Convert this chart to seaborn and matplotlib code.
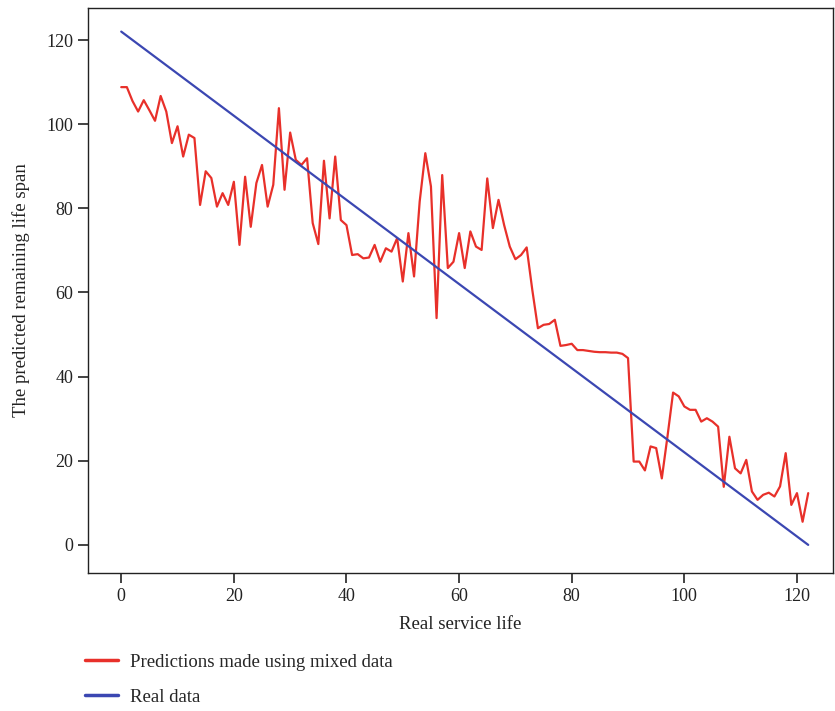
import numpy as np
import pandas as pd
import matplotlib
matplotlib.use("Agg")
import matplotlib.pyplot as plt
import seaborn as sns

service_life = list(range(0, 123))
real_data = [122 - v for v in service_life]
predicted = [
    108.8, 108.8, 105.5, 103.0, 105.7, 103.3, 100.8, 106.7, 103.0, 95.5,
    99.5, 92.3, 97.5, 96.7, 80.8, 88.8, 87.2, 80.4, 83.6, 80.8,
    86.3, 71.3, 87.5, 75.6, 86.0, 90.3, 80.4, 85.6, 103.8, 84.4,
    98.0, 91.5, 90.3, 91.9, 76.5, 71.5, 91.3, 77.6, 92.3, 77.2,
    76.0, 68.9, 69.1, 68.1, 68.3, 71.3, 67.3, 70.5, 69.7, 72.9,
    62.6, 74.1, 63.8, 81.6, 93.1, 85.2, 53.9, 87.9, 65.8, 67.3,
    74.1, 65.8, 74.5, 70.9, 70.1, 87.1, 75.3, 82.0, 76.0, 70.9,
    67.9, 68.9, 70.7, 60.6, 51.5, 52.3, 52.5, 53.5, 47.3, 47.5,
    47.8, 46.3, 46.3, 46.1, 45.9, 45.8, 45.8, 45.7, 45.7, 45.4,
    44.4, 19.8, 19.8, 17.7, 23.4, 23.0, 15.8, 25.7, 36.2, 35.3,
    32.9, 32.1, 32.1, 29.3, 30.1, 29.3, 28.1, 13.8, 25.7, 18.2,
    17.0, 20.2, 12.7, 10.7, 11.9, 12.4, 11.5, 13.9, 21.8, 9.5,
    12.3, 5.5, 12.3,
]

df = pd.DataFrame({"life": service_life, "pred": predicted, "real": real_data})

sns.set_style("ticks")
plt.rcParams["font.family"] = ["Liberation Serif", "DejaVu Serif"]

fig = plt.figure(figsize=(8.35, 7.11), dpi=100)
ax = fig.add_axes([0.1054, 0.194, 0.8922, 0.7947])

sns.lineplot(data=df, x="life", y="pred", color="#e8302a", linewidth=1.6,
             label="Predictions made using mixed data", ax=ax)
sns.lineplot(data=df, x="life", y="real", color="#3b47b2", linewidth=1.6,
             label="Real data", ax=ax)

ax.set_xlim(-5.9, 126.4)
ax.set_ylim(-6.7, 127.6)
ax.set_xticks([0, 20, 40, 60, 80, 100, 120])
ax.set_yticks([0, 20, 40, 60, 80, 100, 120])
ax.tick_params(direction="out", length=7, width=1.2, labelsize=13, colors="#222222")
for s in ax.spines.values():
    s.set_linewidth(1.0)
    s.set_color("#222222")
ax.set_xlabel("Real service life", fontsize=13.5, color="#222222", labelpad=8)
ax.set_ylabel("The predicted remaining life span", fontsize=13.5, color="#222222", labelpad=12)

handles, labels = ax.get_legend_handles_labels()
ax.get_legend().remove()
leg = fig.legend(handles, labels, loc="upper left", bbox_to_anchor=(0.097, 0.086),
                 frameon=False, fontsize=13.5, handlelength=1.75, handletextpad=0.65,
                 labelspacing=0.95, borderaxespad=0, borderpad=0.2)
for line in leg.get_lines():
    line.set_linewidth(2.5)

fig.savefig("out.png", dpi=100)
